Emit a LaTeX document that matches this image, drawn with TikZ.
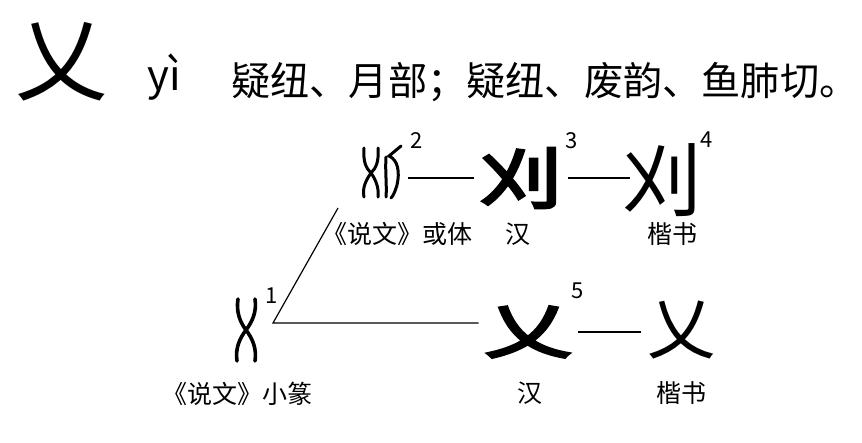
\documentclass[tikz,border=0pt]{standalone}
\usepackage{fontspec}
\newfontfamily\cjk{Noto Sans CJK SC}
\newfontfamily\cjkheavy[FakeBold=4]{Noto Sans CJK SC}
\usetikzlibrary{calc}

\begin{document}
\begin{tikzpicture}[x=1pt,y=-1pt,
  glyph/.style={inner sep=0pt,outer sep=6pt},
  lbl/.style={inner sep=0pt,anchor=base,font=\cjk\fontsize{25}{25}\selectfont},
  num/.style={inner sep=0pt,font=\cjk\fontsize{22}{22}\selectfont},
  link/.style={line width=1.2pt},
  seal/.style={line width=3.6pt,line cap=round}]
\useasboundingbox (0,0) rectangle (862,442);

\node[glyph,font=\cjk\fontsize{92}{92}\selectfont] (head) at (62,62) {乂};
\node[inner sep=0pt,anchor=base west,font=\cjk\fontsize{42}{42}\selectfont] (pinyin) at (147,90) {yì};
\node[inner sep=0pt,anchor=base west,font=\cjk\fontsize{39.2}{39.2}\selectfont] (yin) at (231,95) {疑纽、月部；疑纽、废韵、鱼肺切。};

\node[glyph,minimum width=25pt,minimum height=64pt] (g1) at (246,330) {};
\node[glyph,minimum width=40pt,minimum height=53pt] (g2) at (382,171) {};
\node[glyph,font=\cjkheavy\fontsize{66}{66}\selectfont] (g3) at (521,178) {\scalebox{1.25}[1]{刈}};
\node[glyph,font=\cjk\fontsize{80}{80}\selectfont] (g4) at (662,180) {刈};
\node[glyph,font=\cjkheavy\fontsize{60}{60}\selectfont] (g5) at (528,332) {\scalebox{1.45}[1]{乂}};
\node[glyph,font=\cjk\fontsize{68}{68}\selectfont] (g6) at (681,330) {乂};

\draw[seal] (238,299) .. controls (236,312) and (240,322) .. (246,330) .. controls (252,338) and (257,348) .. (255,361);
\draw[seal] (255,299) .. controls (257,312) and (252,322) .. (246,330) .. controls (240,338) and (235,348) .. (237,361);
\draw[seal,line width=3pt] (364,148) .. controls (363,162) and (366,168) .. (371,173) .. controls (376,180) and (379,188) .. (378,197);
\draw[seal,line width=3pt] (378,148) .. controls (379,162) and (376,168) .. (371,173) .. controls (366,180) and (362,188) .. (364,197);
\draw[seal,line width=3pt] (386,157) .. controls (385,172) and (387,185) .. (386,197);
\draw[seal,line width=3pt] (401,146) -- (389,156) .. controls (398,160) and (400,172) .. (397,185) .. controls (395,192) and (393,196) .. (391,198);

\node[num] (n1) at (272,296) {1};
\node[num] (n2) at (417,141) {2};
\node[num] (n3) at (572,141) {3};
\node[num] (n4) at (707,140) {4};
\node[num] (n5) at (578,291) {5};

\node[lbl,anchor=base west] (l2) at (322,243) {《说文》或体};
\node[lbl] (l3) at (518,243) {汉};
\node[lbl] (l4) at (672,243) {楷书};
\node[lbl,anchor=base west] (l1) at (162,403) {《说文》小篆};
\node[lbl] (l5) at (530,402) {汉};
\node[lbl] (l6) at (681,402) {楷书};

\coordinate (fork) at (273,323);
\coordinate (up) at (338,208);
\draw[link] (up) -- (fork) -- (fork -| g5.west);
\draw[link] (g2.east |- g3.west) -- (g3.west);
\draw[link,shorten >=-14pt] (g3.east) -- (g3.east -| g4.west);
\draw[link] (g5.east) -- (g5.east -| g6.west);
\end{tikzpicture}
\end{document}
